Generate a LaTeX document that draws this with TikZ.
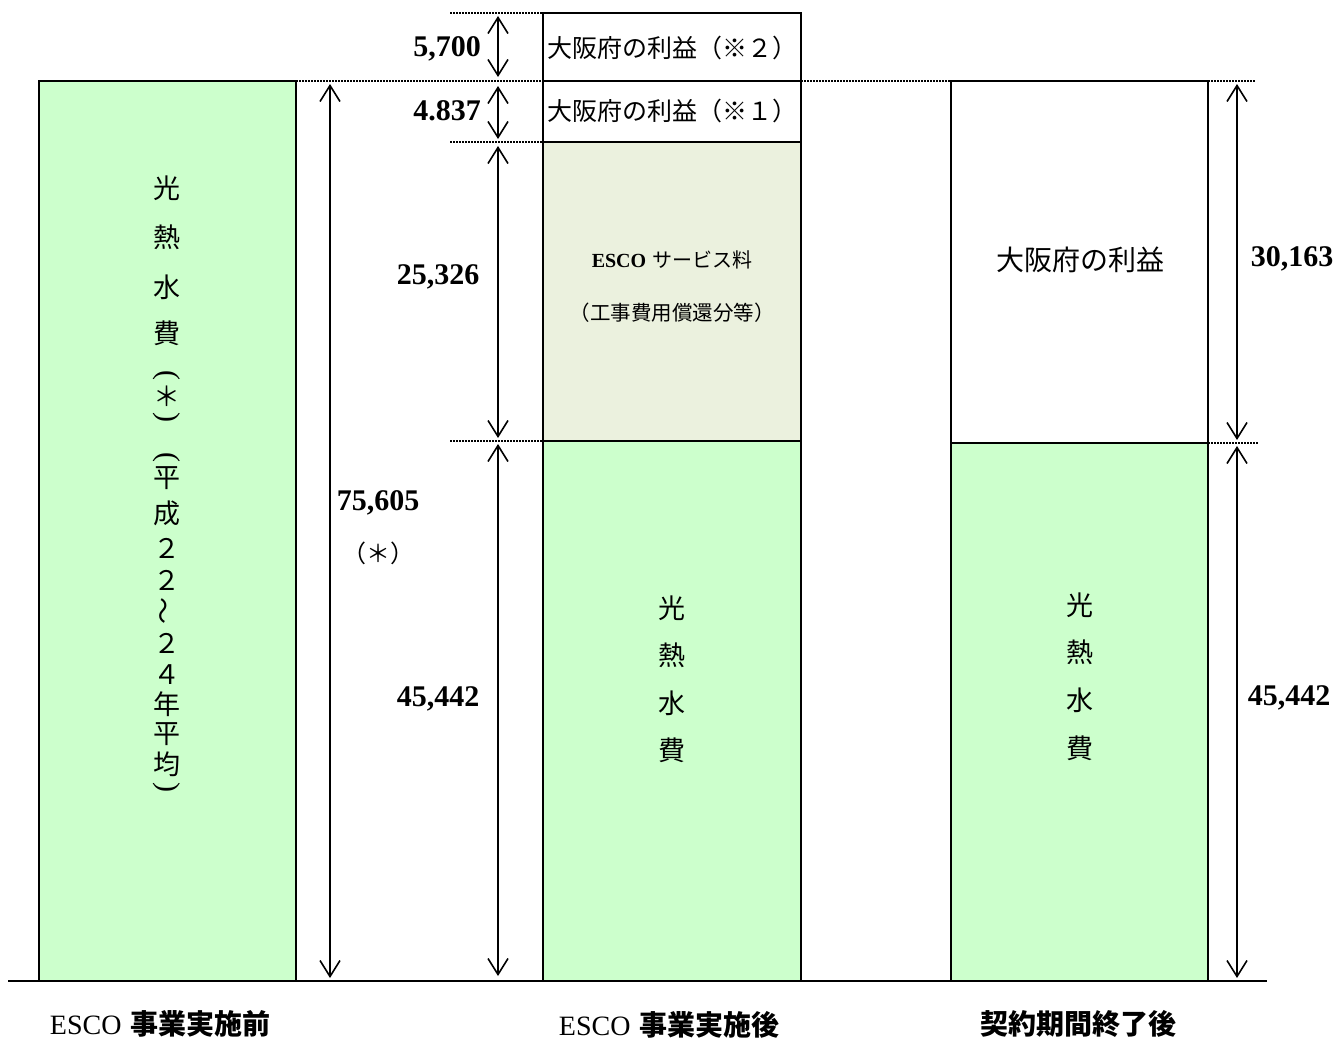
\documentclass[tikz,border=0pt]{standalone}
\usepackage{fontspec}
\newfontfamily\jp{Noto Sans CJK JP}
\newfontfamily\numf{Liberation Serif}
\usetikzlibrary{arrows.meta}
\definecolor{lgreen}{HTML}{CCFFCC}
\definecolor{pgreen}{HTML}{EBF1DE}
\begin{document}
\begin{tikzpicture}[x=1pt,y=-1pt,
  bar/.style={draw=black,line width=2pt},
  dim/.style={line width=2pt,{Straight Barb[length=16pt,width=20pt,line width=1.6pt]}-{Straight Barb[length=16pt,width=20pt,line width=1.6pt]}},
  guide/.style={line width=1.5pt,dash pattern=on 1.5pt off 1.5pt},
  num/.style={font=\fontsize{30}{34}\selectfont\numf\bfseries,inner sep=0pt},
  vj/.style={font=\fontsize{27}{30}\selectfont\jp,inner sep=0pt},
  vparen/.style={font=\fontsize{30}{32}\selectfont\numf,inner sep=0pt,rotate=-90},
  boxtxt/.style={font=\fontsize{25}{28}\selectfont\jp,inner sep=0pt},
  captxt/.style={font=\fontsize{28}{30}\selectfont,inner sep=0pt}]
\useasboundingbox (0,0) rectangle (1340,1041);
% bars
\path[bar,fill=lgreen] (39,81) rectangle (296,981);
\path[bar,fill=white] (543,13) rectangle (801,81);
\path[bar,fill=white] (543,81) rectangle (801,142);
\path[bar,fill=pgreen] (543,142) rectangle (801,441);
\path[bar,fill=lgreen] (543,441) rectangle (801,981);
\path[bar,fill=white] (951,81) rectangle (1208,443);
\path[bar,fill=lgreen] (951,443) rectangle (1208,981);
% baseline
\coordinate (b1) at (8,981); \coordinate (b2) at (1267,981);
\draw[line width=2pt] (b1) -- (b2);
% guides
\coordinate (g1a) at (450,13); \coordinate (g1b) at (543,13);
\coordinate (g2a) at (296,81); \coordinate (g2b) at (543,81);
\coordinate (g2c) at (801,81); \coordinate (g2d) at (951,81);
\coordinate (g3a) at (450,142); \coordinate (g3b) at (543,142);
\coordinate (g4a) at (450,441); \coordinate (g4b) at (543,441);
\coordinate (g5a) at (1208,81); \coordinate (g5b) at (1255,81);
\coordinate (g6a) at (1208,443); \coordinate (g6b) at (1258,443);
\draw[guide] (g1a)--(g1b) (g2a)--(g2b) (g2c)--(g2d) (g3a)--(g3b) (g4a)--(g4b) (g5a)--(g5b) (g6a)--(g6b);
% dimension arrows
\coordinate (a1) at (330,84); \coordinate (a2) at (330,978);
\coordinate (m1) at (498,16); \coordinate (m2) at (498,77);
\coordinate (m3) at (498,86); \coordinate (m4) at (498,139);
\coordinate (m5) at (498,146); \coordinate (m6) at (498,438);
\coordinate (m7) at (498,444); \coordinate (m8) at (498,976);
\coordinate (r1) at (1237,84); \coordinate (r2) at (1237,440);
\coordinate (r3) at (1237,446); \coordinate (r4) at (1237,978);
\draw[dim] (a1)--(a2);
\draw[dim] (m1)--(m2);
\draw[dim] (m3)--(m4);
\draw[dim] (m5)--(m6);
\draw[dim] (m7)--(m8);
\draw[dim] (r1)--(r2);
\draw[dim] (r3)--(r4);
% numbers
\node[num,anchor=east] (n1) at (481,49) {5,700};
\node[num,anchor=east] (n2) at (481,111) {4.837};
\node[num] (n3) at (438,277) {25,326};
\node[num] (n4) at (438,699) {45,442};
\node[num] (n5) at (378,503) {75,605};
\node[font=\fontsize{24}{28}\selectfont\jp,inner sep=0pt] (n6) at (378,553) {（＊）};
\node[num] (n7) at (1292,259) {30,163};
\node[num] (n8) at (1289,698) {45,442};
% box texts
\node[boxtxt] (t1) at (672,48) {大阪府の利益（※２）};
\node[boxtxt] (t2) at (672,111) {大阪府の利益（※１）};
\node[inner sep=0pt,font=\fontsize{20}{22}\selectfont] (t3) at (672,260) {{\numf\bfseries ESCO} {\jp サービス料}};
\node[inner sep=0pt,font=\fontsize{20.5}{22}\selectfont\jp] (t4) at (672,313) {（工事費用償還分等）};
\node[font=\fontsize{28}{30}\selectfont\jp,inner sep=0pt] (t5) at (1080,260) {大阪府の利益};
% vertical texts
\foreach \c/\y [count=\i] in {光/605,熱/652,水/700,費/748}
  \node[vj] (v\i) at (1080,\y) {\c};
\foreach \c/\y [count=\i] in {光/608,熱/655,水/703,費/750}
  \node[vj] (w\i) at (672,\y) {\c};
\foreach \c/\y [count=\i] in {光/188,熱/237,水/287,費/333,＊/396,平/478,成/513,２/548,２/580,２/643,４/675,年/704,平/734,均/764}
  \node[vj] (L\i) at (167,\y) {\c};
\node[vparen] (p1) at (167,375) {(};
\node[vparen] (p2) at (167,417) {)};
\node[vparen] (p3) at (167,457) {(};
\node[vparen] (p4) at (167,787) {)};
\node[vj,rotate=90] (p5) at (167,611) {～};
% captions
\node[captxt] (c1) at (160,1024) {{\numf ESCO} {\jp\bfseries 事業実施前}};
\node[captxt] (c2) at (669,1025) {{\numf ESCO} {\jp\bfseries 事業実施後}};
\node[captxt] (c3) at (1078,1024) {{\jp\bfseries 契約期間終了後}};
\end{tikzpicture}
\end{document}
